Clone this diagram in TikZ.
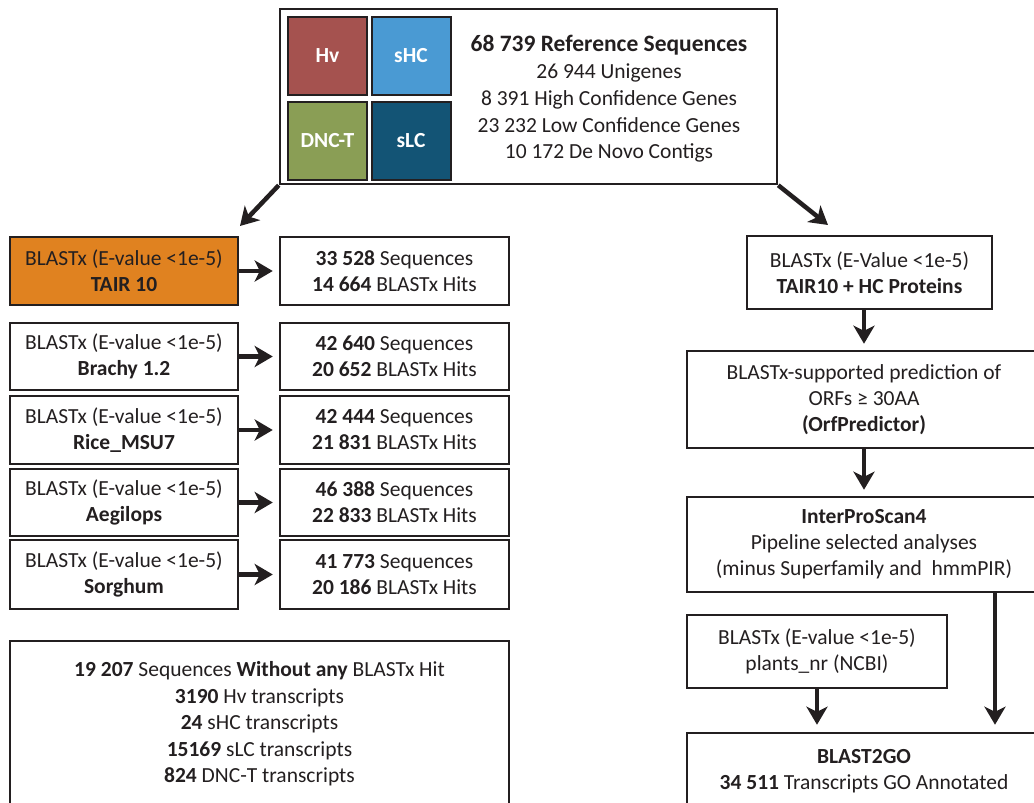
\documentclass[tikz,border=0pt]{standalone}
\usepackage{fontspec}
\setmainfont{Carlito}
\usetikzlibrary{arrows.meta}
\definecolor{txt}{HTML}{231F20}
\definecolor{hvc}{HTML}{A5524F}
\definecolor{shcc}{HTML}{4A9AD3}
\definecolor{dnccc}{HTML}{8A9E55}
\definecolor{slcc}{HTML}{135475}
\definecolor{orangec}{HTML}{E08220}
\begin{document}
\begin{tikzpicture}[x=1pt,y=-1pt,
  box/.style={draw=txt, line width=2.5pt, fill=white, align=center, inner sep=0pt,
    font=\fontsize{21.5}{26}\selectfont, text=txt},
  sq/.style={draw=txt, line width=2pt, minimum width=79pt, minimum height=78pt, inner sep=0pt,
    text=white, font=\fontsize{21.5}{26}\selectfont\bfseries},
  arr/.style={line width=4.5pt, draw=txt, -{Stealth[length=18pt,width=21pt,inset=5pt]}},
  lbox/.style={box, minimum width=228pt, minimum height=68pt},
  rbox/.style={box, minimum width=229pt, minimum height=68pt}]
\useasboundingbox (0,0) rectangle (1034,803);

% top box
\node[box, minimum width=497pt, minimum height=175pt] (top) at (528.5,96.5) {};
\node[sq, fill=hvc] (hv) at (327.5,56) {Hv};
\node[sq, fill=shcc] (shc) at (411,56) {sHC};
\node[sq, fill=dnccc] (dnc) at (327.5,140.5) {DNC-T};
\node[sq, fill=slcc] (slc) at (411,140.5) {sLC};
\node[align=center, text=txt, font=\fontsize{21.5}{26.7}\selectfont] (toptxt) at (609,99)
  {{\fontsize{23.5}{26.7}\selectfont\bfseries 68 739 Reference Sequences}\\
   26 944 Unigenes\\ 8 391 High Confidence Genes\\ 23 232 Low Confidence Genes\\ 10 172 De Novo Contigs};

% left column
\node[lbox, fill=orangec] (tair) at (124,271) {BLASTx (E-value <1e-5)\\\textbf{TAIR 10}};
\node[rbox] (r1) at (394.5,271) {\textbf{33 528} Sequences\\\textbf{14 664} BLASTx Hits};
\node[lbox, minimum height=67pt] (bra) at (124,356.5) {BLASTx (E-value <1e-5)\\\textbf{Brachy 1.2}};
\node[rbox, minimum height=67pt] (r2) at (394.5,356.5) {\textbf{42 640} Sequences\\\textbf{20 652} BLASTx Hits};
\node[lbox] (rice) at (124,430) {BLASTx (E-value <1e-5)\\\textbf{Rice\_MSU7}};
\node[rbox] (r3) at (394.5,430) {\textbf{42 444} Sequences\\\textbf{21 831} BLASTx Hits};
\node[lbox, minimum height=67pt] (aeg) at (124,502.5) {BLASTx (E-value <1e-5)\\\textbf{Aegilops}};
\node[rbox, minimum height=67pt] (r4) at (394.5,502.5) {\textbf{46 388} Sequences\\\textbf{22 833} BLASTx Hits};
\node[lbox, minimum height=69pt] (sor) at (124,574.5) {BLASTx (E-value <1e-5)\\\textbf{Sorghum}};
\node[rbox, minimum height=69pt] (r5) at (394.5,574.5) {\textbf{41 773} Sequences\\\textbf{20 186} BLASTx Hits};

\node[box, minimum width=499pt, minimum height=166pt, font=\fontsize{21.5}{26.5}\selectfont] (nohit) at (259.5,724)
  {\textbf{19 207} Sequences \textbf{Without any} BLASTx Hit\\
   \textbf{3190} Hv transcripts\\ \textbf{24} sHC transcripts\\ \textbf{15169} sLC transcripts\\ \textbf{824} DNC-T transcripts};

% right column
\node[box, minimum width=245pt, minimum height=73pt] (blx) at (869.5,272.5) {BLASTx (E-Value <1e-5)\\\textbf{TAIR10 + HC Proteins}};
\node[box, minimum width=354pt, minimum height=97pt] (orf) at (864,399.5) {BLASTx-supported prediction of\\ORFs ≥ 30AA\\\textbf{(OrfPredictor)}};
\node[box, minimum width=354pt, minimum height=95pt] (ipr) at (864,544.5) {\textbf{InterProScan4}\\Pipeline selected analyses\\(minus Superfamily and\ \ hmmPIR)};
\node[box, minimum width=260pt, minimum height=73pt] (pnr) at (817,651.5) {BLASTx (E-value <1e-5)\\plants\_nr (NCBI)};
\node[box, minimum width=354pt, minimum height=77pt] (b2g) at (864,771.5) {\textbf{BLAST2GO}\\\textbf{34 511} Transcripts GO Annotated};

% arrows
\coordinate (t1) at (240,226);
\coordinate (t2) at (828,225);
\draw[arr] (top.south west) -- (t1);
\draw[arr] (top.south east) -- (t2);
\draw[arr, shorten >=6pt] (tair.east) -- (r1.west);
\draw[arr, shorten >=6pt] (bra.east) -- (r2.west);
\draw[arr, shorten >=6pt] (rice.east) -- (r3.west);
\draw[arr, shorten >=6pt] (aeg.east) -- (r4.west);
\draw[arr, shorten >=6pt] (sor.east) -- (r5.west);
\draw[arr, shorten >=6pt] (orf.north |- blx.south) -- (orf.north);
\draw[arr, shorten >=6pt] (orf.south) -- (ipr.north);
\draw[arr, shorten >=7pt] (ipr.south -| 995,0) -- (b2g.north -| 995,0);
\draw[arr, shorten >=7pt] (pnr.south) -- (pnr.south |- b2g.north);
\end{tikzpicture}
\end{document}
